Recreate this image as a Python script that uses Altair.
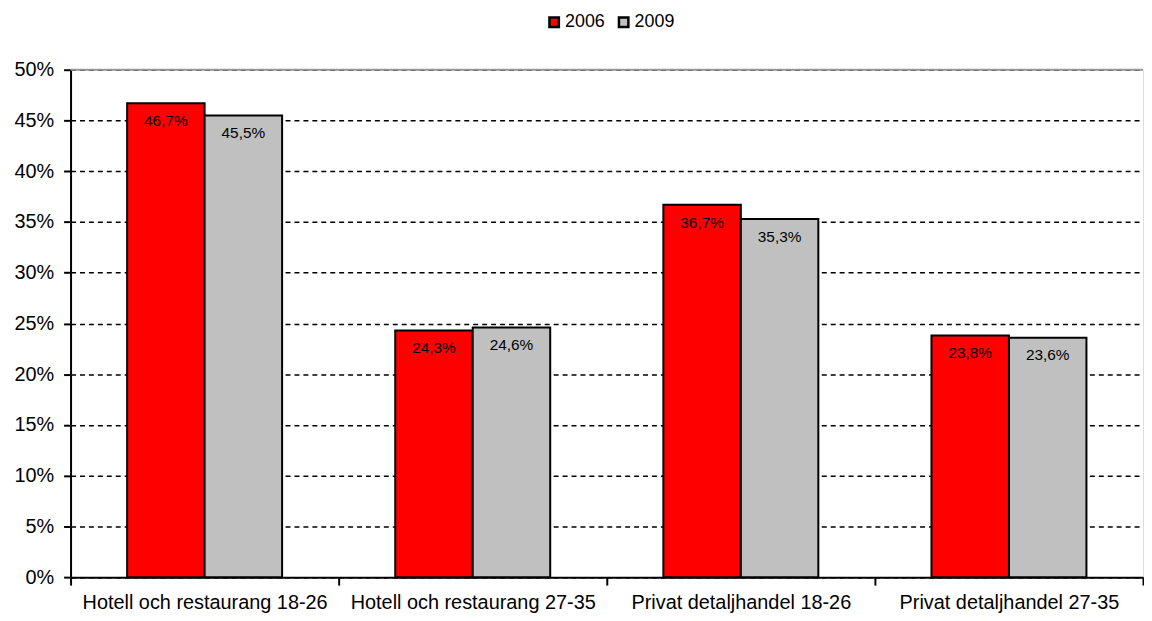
import altair as alt
import pandas as pd

categories = ["Hotell och restaurang 18-26", "Hotell och restaurang 27-35",
              "Privat detaljhandel 18-26", "Privat detaljhandel 27-35"]
years = ["2006", "2009"]
values_2006 = [46.7, 24.3, 36.7, 23.8]
values_2009 = [45.5, 24.6, 35.3, 23.6]
colors = ["#FF0000", "#C0C0C0"]

rows = []
for c, a, b in zip(categories, values_2006, values_2009):
    for y, v in zip(years, [a, b]):
        rows.append({"cat": c, "year": y, "value": v / 100.0,
                     "label": f"{v:.1f}".replace(".", ",") + "%"})
df = pd.DataFrame(rows)

FONT = "Liberation Sans"

x = alt.X("cat:N", sort=categories, title=None,
          scale=alt.Scale(paddingInner=0, paddingOuter=0),
          axis=alt.Axis(labelAngle=0, labelFontSize=20, labelColor="black",
                        labelPadding=8, labelLimit=0, tickBand="extent", tickSize=8,
                        tickColor="black", tickWidth=2, domainColor="black",
                        domainWidth=2, grid=False, labelFont=FONT))
y = alt.Y("value:Q", title=None,
          scale=alt.Scale(domain=[0, 0.5], nice=False),
          axis=alt.Axis(format=".0%", values=[i * 0.05 for i in range(11)],
                        labelFontSize=20, labelColor="black", labelFont=FONT,
                        tickSize=7, tickColor="black", tickWidth=2,
                        domainColor="black", domainWidth=2, labelPadding=10,
                        grid=True, gridColor="black", gridDash=[5, 4],
                        gridWidth=1.5))

base = alt.Chart(df).encode(
    x=x,
    xOffset=alt.XOffset("year:N", sort=years,
                        scale=alt.Scale(paddingInner=0, paddingOuter=0.73)),
)

bars = base.mark_bar(stroke="black", strokeWidth=2).encode(
    y=y,
    color=alt.Color("year:N", sort=years,
                    scale=alt.Scale(domain=years, range=colors),
                    legend=alt.Legend(title=None, orient="none", direction="horizontal",
                                      legendX=478, legendY=-57, symbolType="square",
                                      symbolSize=90, symbolStrokeColor="black",
                                      symbolStrokeWidth=2.5, labelFontSize=18,
                                      labelFont=FONT, labelColor="black",
                                      columnPadding=8, symbolOffset=0,
                                      labelOffset=2)),
)

text = base.mark_text(baseline="top", dy=11, fontSize=15.5, font=FONT,
                      color="black").encode(
    y=alt.Y("value:Q", scale=alt.Scale(domain=[0, 0.5], nice=False)),
    text="label:N",
)

top_rule = alt.Chart(pd.DataFrame({"v": [0.5]})).mark_rule(
    color="#999999", strokeWidth=2).encode(
    y=alt.Y("v:Q", scale=alt.Scale(domain=[0, 0.5], nice=False)))

chart = alt.layer(bars, text, top_rule).properties(
    width=1080, height=511,
    autosize=alt.AutoSizeParams(type="none"),
    padding={"left": 63, "top": 60, "right": 1, "bottom": 40},
).configure_view(stroke=None).configure(font=FONT)

chart.save("out.html", embed_options={"renderer": "svg", "actions": False})
